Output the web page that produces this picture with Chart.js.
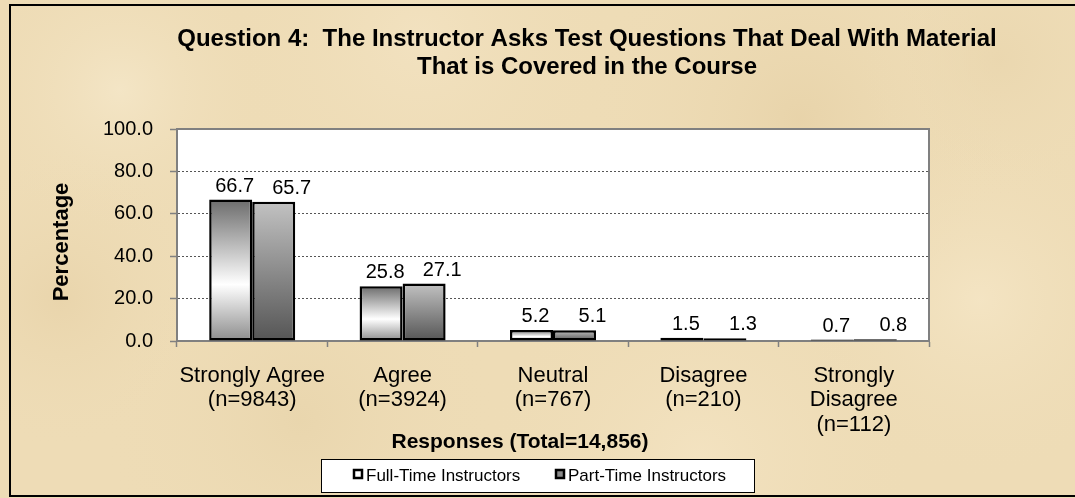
<!DOCTYPE html>
<html>
<head>
<meta charset="utf-8">
<script src="https://cdn.jsdelivr.net/npm/chart.js@4.4.1/dist/chart.umd.min.js"></script>
<style>
  html, body { margin: 0; padding: 0; background: #eedcb5; }
  #wrap { width: 1075px; height: 498px; }
</style>
</head>
<body>
<div id="wrap"><canvas id="surveyChart" width="1075" height="498"></canvas></div>
<script>
// chart values
const categories = [
  ['Strongly Agree', '(n=9843)'],
  ['Agree', '(n=3924)'],
  ['Neutral', '(n=767)'],
  ['Disagree', '(n=210)'],
  ['Strongly', 'Disagree', '(n=112)']
];
const fullTime = [66.7, 25.8, 5.2, 1.5, 0.7];
const partTime = [65.7, 27.1, 5.1, 1.3, 0.8];
const seriesNames = ['Full-Time Instructors', 'Part-Time Instructors'];
const yTicks = [0, 20, 40, 60, 80, 100];
const titleLines = [
  'Question 4:  The Instructor Asks Test Questions That Deal With Material',
  'That is Covered in the Course'
];
const xTitle = 'Responses (Total=14,856)';
const yTitle = 'Percentage';

(function () {
  if (typeof Chart === 'undefined') {
    console.error('Chart.js missing');
    return;
  }
  const FONT = 'Arial, "Liberation Sans", sans-serif';
  const canvas = document.getElementById('surveyChart');

  // vertical gradient fills, one per bar, stretched over the bar height
  function barFill(series) {
    return function (ctx) {
      const chart = ctx.chart;
      if (!chart.chartArea || ctx.type !== 'data') return series === 0 ? '#e0e0e0' : '#909090';
      const y = chart.scales.y;
      const top = y.getPixelForValue(ctx.raw);
      const base = y.getPixelForValue(0);
      const g = chart.ctx.createLinearGradient(0, top, 0, base);
      if (series === 0) {
        g.addColorStop(0, '#6c6c6c');
        g.addColorStop(0.6, '#ffffff');
        g.addColorStop(1, '#8c8c8c');
      } else {
        g.addColorStop(0, '#c2c2c2');
        g.addColorStop(1, '#555555');
      }
      return g;
    };
  }

  const decor = {
    id: 'decor',
    beforeDraw(chart) {
      const c = chart.ctx, a = chart.chartArea;
      c.save();
      c.fillStyle = '#eedcb6';
      c.fillRect(0, 0, chart.width, chart.height);
      // soft parchment blotches
      const spots = [
        [120, 90, 150, 'rgba(246,233,204,0.7)'], [420, 40, 200, 'rgba(243,227,194,0.8)'],
        [800, 120, 220, 'rgba(228,206,162,0.6)'], [980, 300, 180, 'rgba(245,230,198,0.8)'],
        [300, 420, 200, 'rgba(230,210,168,0.6)'], [700, 460, 220, 'rgba(244,228,195,0.8)'],
        [60, 300, 150, 'rgba(230,208,165,0.6)'], [1000, 60, 140, 'rgba(232,212,171,0.6)']
      ];
      spots.forEach(s => {
        const g = c.createRadialGradient(s[0], s[1], 0, s[0], s[1], s[2]);
        g.addColorStop(0, s[3]);
        g.addColorStop(1, 'rgba(238,220,182,0)');
        c.fillStyle = g;
        c.fillRect(0, 0, chart.width, chart.height);
      });
      c.fillStyle = '#ffffff';
      c.fillRect(a.left, a.top, a.right - a.left, a.bottom - a.top);
      c.restore();
    },
    afterDatasetsDraw(chart) {
      const c = chart.ctx;
      c.save();
      c.font = '20px ' + FONT;
      c.fillStyle = '#000';
      c.textAlign = 'center';
      c.textBaseline = 'alphabetic';
      chart.data.datasets.forEach((ds, di) => {
        const meta = chart.getDatasetMeta(di);
        const shift = di === 0 ? 4 : 18;
        meta.data.forEach((bar, i) => {
          c.fillText(ds.data[i].toFixed(1), bar.x + shift, bar.y - 8);
        });
      });
      c.restore();
    },
    afterDraw(chart) {
      const c = chart.ctx, a = chart.chartArea;
      c.save();
      // plot frame: top and right edges
      c.strokeStyle = '#808080';
      c.lineWidth = 2;
      c.beginPath();
      c.moveTo(a.left, a.top);
      c.lineTo(a.right, a.top);
      c.lineTo(a.right, a.bottom);
      c.stroke();

      // titles
      c.fillStyle = '#000';
      c.textAlign = 'center';
      c.textBaseline = 'alphabetic';
      c.font = 'bold 24px ' + FONT;
      c.fillText(titleLines[0], 587, 46);
      c.fillText(titleLines[1], 587, 74);
      c.font = 'bold 21px ' + FONT;
      c.fillText(xTitle, 520, 448);
      c.font = 'bold 22px ' + FONT;
      c.save();
      c.translate(68, 242);
      c.rotate(-Math.PI / 2);
      c.fillText(yTitle, 0, 0);
      c.restore();

      // legend box
      c.fillStyle = '#ffffff';
      c.fillRect(321, 459, 433, 33);
      c.strokeStyle = '#000';
      c.lineWidth = 1;
      c.strokeRect(321.5, 459.5, 433, 33);
      const items = [[353, '#ffffff'], [555, '#8a8a8a']];
      c.font = '17px ' + FONT;
      c.textAlign = 'left';
      items.forEach((it, i) => {
        c.fillStyle = it[1];
        c.fillRect(it[0], 469, 10, 10);
        c.lineWidth = 2.5;
        c.strokeStyle = '#000';
        c.strokeRect(it[0] + 1, 470, 8, 8);
        c.fillStyle = '#000';
        c.fillText(seriesNames[i], it[0] + 13, 481);
      });

      // outer frame
      c.lineWidth = 2;
      c.strokeStyle = '#000';
      c.strokeRect(10, 5, 1080, 491);
      c.restore();
    }
  };

  new Chart(canvas, {
    type: 'bar',
    data: {
      labels: categories,
      datasets: [
        {
          label: seriesNames[0],
          data: fullTime,
          backgroundColor: barFill(0),
          borderColor: '#000',
          borderWidth: 2.5,
          borderSkipped: false
        },
        {
          label: seriesNames[1],
          data: partTime,
          backgroundColor: barFill(1),
          borderColor: '#000',
          borderWidth: 2.5,
          borderSkipped: false
        }
      ]
    },
    options: {
      responsive: false,
      devicePixelRatio: 1,
      animation: false,
      events: [],
      datasets: {
        bar: { categoryPercentage: 0.572, barPercentage: 1 }
      },
      layout: {
        padding: { top: 129, right: 146, left: 0, bottom: 0 }
      },
      plugins: {
        legend: { display: false },
        title: { display: false },
        tooltip: { enabled: false }
      },
      scales: {
        x: {
          afterFit(scale) { scale.height = 157; },
          grid: {
            display: true,
            drawOnChartArea: false,
            drawTicks: true,
            tickLength: 6,
            tickColor: '#808080',
            tickWidth: 1.5,
            offset: true
          },
          border: { color: '#808080', width: 2 },
          ticks: {
            autoSkip: false,
            maxRotation: 0,
            padding: 17,
            color: '#000',
            font: { family: FONT, size: 22, lineHeight: 1.1 }
          }
        },
        y: {
          min: 0,
          max: 100,
          afterFit(scale) { scale.width = 177; },
          afterBuildTicks(scale) { scale.ticks = yTicks.map(v => ({ value: v })); },
          grid: {
            color(ctx) {
              const v = ctx.tick ? ctx.tick.value : 0;
              return (v === 0 || v === 100) ? 'rgba(0,0,0,0)' : '#555555';
            },
            tickColor: '#808080',
            tickLength: 7,
            tickWidth: 1.5
          },
          border: { color: '#808080', width: 2, dash: [2, 2] },
          ticks: {
            padding: 17,
            color: '#000',
            font: { family: FONT, size: 20 },
            callback(value) { return Number(value).toFixed(1); }
          }
        }
      }
    },
    plugins: [decor]
  });
})();
</script>
</body>
</html>
